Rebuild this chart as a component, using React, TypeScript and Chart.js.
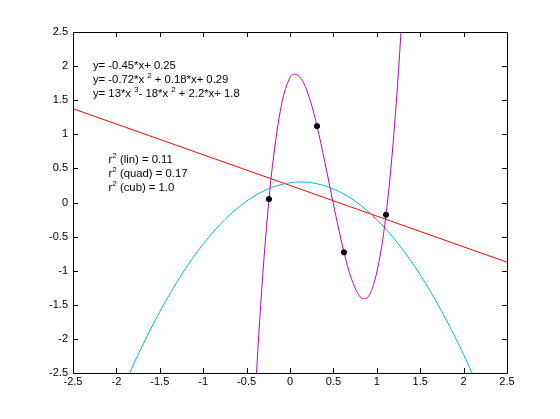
import { useEffect, useRef } from 'react';
import { Chart, registerables } from 'chart.js';

Chart.register(...registerables);

const xTickValues = [-2.5, -2, -1.5, -1, -0.5, 0, 0.5, 1, 1.5, 2, 2.5];
const xTickLabels = ['-2.5', '-2', '-1.5', '-1', '-0.5', '0', '0.5', '1', '1.5', '2', '2.5'];
const yTickValues = [-2.5, -2, -1.5, -1, -0.5, 0, 0.5, 1, 1.5, 2, 2.5];
const yTickLabels = ['-2.5', '-2', '-1.5', '-1', '-0.5', '0', '0.5', '1', '1.5', '2', '2.5'];

// measured data points
const pointX = [-0.242, 0.311, 0.622, 1.106];
const pointY = [0.05, 1.12, -0.73, -0.18];

// linear fit line
const linX = [-2.5, 2.5];
const linY = [1.375, -0.875];

// quadratic fit curve
const quadX = [-1.85, -1.75, -1.5, -1.25, -1, -0.75, -0.5, -0.25, 0, 0.125, 0.25, 0.5, 0.75, 1, 1.25, 1.5, 1.75, 2, 2.1];
const quadY = [-2.507, -2.23, -1.6, -1.06, -0.61, -0.25, 0.02, 0.2, 0.29, 0.301, 0.29, 0.2, 0.02, -0.25, -0.61, -1.06, -1.6, -2.23, -2.507];

// cubic fit curve
const cubX = [-0.39, -0.35, -0.3, -0.242, -0.2, -0.1, 0, 0.06, 0.15, 0.25, 0.311, 0.4, 0.5, 0.622, 0.7, 0.8, 0.86, 0.95, 1.05, 1.106, 1.15, 1.2, 1.25, 1.3];
const cubY = [-2.588, -1.739, -0.823, 0.05, 0.563, 1.421, 1.831, 1.88, 1.77, 1.425, 1.12, 0.601, -0.023, -0.73, -1.089, -1.37, -1.412, -1.252, -0.696, -0.18, 0.336, 1.056, 1.924, 2.952];

type Seg = { t: string; sup?: boolean };
const eqLines: Seg[][] = [
  [{ t: 'y= -0.45*x+ 0.25' }],
  [{ t: 'y= -0.72*x ' }, { t: '2', sup: true }, { t: ' + 0.18*x+ 0.29' }],
  [{ t: 'y= 13*x ' }, { t: '3', sup: true }, { t: '- 18*x ' }, { t: '2', sup: true }, { t: ' + 2.2*x+ 1.8' }],
];
const r2Lines: Seg[][] = [
  [{ t: 'r' }, { t: '2', sup: true }, { t: ' (lin) = 0.11' }],
  [{ t: 'r' }, { t: '2', sup: true }, { t: ' (quad) = 0.17' }],
  [{ t: 'r' }, { t: '2', sup: true }, { t: ' (cub) = 1.0' }],
];

const FONT = '"Liberation Sans", Arial, Helvetica, sans-serif';
const eqAnchor = { x: -2.27, y: 2.0 };
const r2Anchor = { x: -2.09, y: 0.62 };

const toXY = (xs: number[], ys: number[]) => xs.map((x, i) => ({ x, y: ys[i] }));

const boxPlugin = {
  id: 'matlabBox',
  afterDraw(chart: any) {
    const { ctx, chartArea } = chart;
    const { left, right, top, bottom } = chartArea;
    const xs = chart.scales.x;
    const ys = chart.scales.y;
    ctx.save();
    ctx.strokeStyle = '#000';
    ctx.lineWidth = 1;
    ctx.beginPath();
    ctx.rect(Math.round(left) + 0.5, Math.round(top) + 0.5, Math.round(right - left), Math.round(bottom - top));
    ctx.stroke();
    const tl = 5;
    ctx.beginPath();
    xTickValues.forEach((v) => {
      const px = Math.round(xs.getPixelForValue(v)) + 0.5;
      ctx.moveTo(px, bottom);
      ctx.lineTo(px, bottom - tl);
      ctx.moveTo(px, top);
      ctx.lineTo(px, top + tl);
    });
    yTickValues.forEach((v) => {
      const py = Math.round(ys.getPixelForValue(v)) + 0.5;
      ctx.moveTo(left, py);
      ctx.lineTo(left + tl, py);
      ctx.moveTo(right, py);
      ctx.lineTo(right - tl, py);
    });
    ctx.stroke();

    const drawLines = (lines: Seg[][], anchor: { x: number; y: number }) => {
      const x0 = xs.getPixelForValue(anchor.x);
      const y0 = ys.getPixelForValue(anchor.y);
      ctx.fillStyle = '#000';
      ctx.textBaseline = 'middle';
      ctx.textAlign = 'left';
      lines.forEach((segs, i) => {
        let cx = x0;
        const cy = y0 + i * 14;
        segs.forEach((s) => {
          if (s.sup) {
            ctx.font = `8px ${FONT}`;
            ctx.fillText(s.t, cx, cy - 4);
          } else {
            ctx.font = `11.3px ${FONT}`;
            ctx.fillText(s.t, cx, cy);
          }
          cx += ctx.measureText(s.t).width;
        });
      });
    };
    drawLines(eqLines, eqAnchor);
    drawLines(r2Lines, r2Anchor);
    ctx.restore();
  },
};

export default function App() {
  const canvasRef = useRef<HTMLCanvasElement | null>(null);

  useEffect(() => {
    document.body.style.margin = '0';
    const canvas = canvasRef.current;
    if (!canvas) return;
    const lineCommon = {
      showLine: true,
      pointRadius: 0,
      borderWidth: 1,
      fill: false,
      clip: 0,
    };
    const chart = new Chart(canvas, {
      type: 'scatter',
      data: {
        datasets: [
          {
            label: 'data',
            data: toXY(pointX, pointY),
            showLine: false,
            pointRadius: 2.6,
            pointStyle: 'circle',
            backgroundColor: '#000',
            borderColor: '#000',
            borderWidth: 1,
          },
          {
            label: 'cubic',
            data: toXY(cubX, cubY),
            borderColor: '#bf00bf',
            cubicInterpolationMode: 'monotone',
            ...lineCommon,
          },
          {
            label: 'quadratic',
            data: toXY(quadX, quadY),
            borderColor: '#00bfbf',
            cubicInterpolationMode: 'monotone',
            ...lineCommon,
          },
          {
            label: 'linear',
            data: toXY(linX, linY),
            borderColor: '#ff0000',
            ...lineCommon,
          },
        ] as any,
      },
      options: {
        animation: false,
        responsive: true,
        maintainAspectRatio: false,
        layout: { padding: { left: 0, top: 32, right: 53, bottom: 0 } },
        plugins: {
          legend: { display: false },
          tooltip: { enabled: false },
        },
        scales: {
          x: {
            type: 'linear',
            min: -2.5,
            max: 2.5,
            grid: { display: false, drawTicks: false },
            border: { display: false },
            afterBuildTicks: (scale: any) => {
              scale.ticks = xTickValues.map((v) => ({ value: v }));
            },
            afterFit: (scale: any) => {
              scale.height = 46;
            },
            ticks: {
              autoSkip: false,
              maxRotation: 0,
              padding: 2,
              color: '#000',
              font: { family: FONT, size: 11 },
              callback: (_v: any, i: number) => xTickLabels[i],
            },
          },
          y: {
            type: 'linear',
            min: -2.5,
            max: 2.5,
            grid: { display: false, drawTicks: false },
            border: { display: false },
            afterBuildTicks: (scale: any) => {
              scale.ticks = yTickValues.map((v) => ({ value: v }));
            },
            afterFit: (scale: any) => {
              scale.width = 73;
            },
            ticks: {
              autoSkip: false,
              padding: 5,
              color: '#000',
              font: { family: FONT, size: 11 },
              callback: (_v: any, i: number) => yTickLabels[i],
            },
          },
        },
      } as any,
      plugins: [boxPlugin],
    });
    return () => chart.destroy();
  }, []);

  return (
    <div style={{ position: 'relative', width: 560, height: 419, background: '#fff' }}>
      <canvas ref={canvasRef} />
    </div>
  );
}
